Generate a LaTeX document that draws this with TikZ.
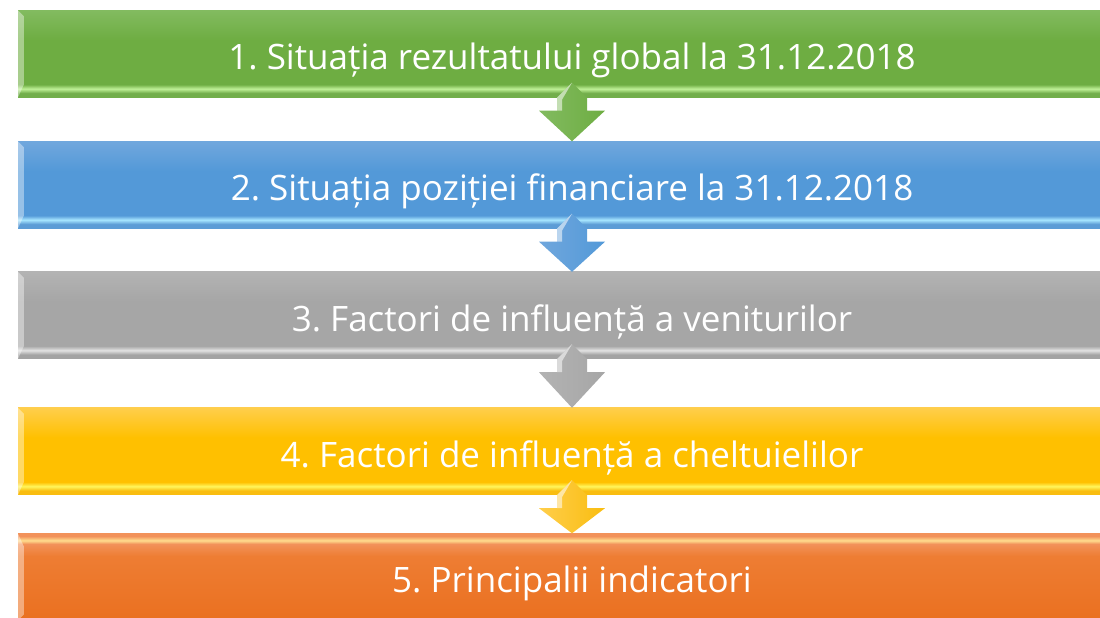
\documentclass[tikz,border=0pt]{standalone}
\usepackage{fontspec}
\setmainfont{Open Sans}
\frenchspacing
\usetikzlibrary{calc}
\definecolor{gTop}{HTML}{82BB60}
\definecolor{gMid}{HTML}{6EAD42}
\definecolor{gLight}{HTML}{BFF097}
\definecolor{gDark}{HTML}{72AE4B}
\definecolor{bTop}{HTML}{70A7DD}
\definecolor{bMid}{HTML}{5399D8}
\definecolor{bLight}{HTML}{A8E6FF}
\definecolor{bDark}{HTML}{5C9CD6}
\definecolor{aTop}{HTML}{B3B3B3}
\definecolor{aMid}{HTML}{A6A6A6}
\definecolor{aLight}{HTML}{E2E2E2}
\definecolor{aDark}{HTML}{A3A3A3}
\definecolor{yTop}{HTML}{FFCE4B}
\definecolor{yMid}{HTML}{FFC000}
\definecolor{yLight}{HTML}{FFF65C}
\definecolor{yDark}{HTML}{F9BD10}
\definecolor{oTop}{HTML}{F2925A}
\definecolor{oMid}{HTML}{EE7D33}
\definecolor{oLight}{HTML}{FFDD8E}
\definecolor{oDark}{HTML}{EA7020}
\newcommand{\barshading}[5]{\pgfdeclareverticalshading{#1}{100bp}{color(0bp)=(#5); color(25bp)=(#5); color(27.5bp)=(#5); color(30bp)=(#4); color(32.5bp)=(#3); color(58bp)=(#3); color(75bp)=(#2); color(100bp)=(#2)}}
\barshading{greenbar}{gTop}{gMid}{gLight}{gDark}
\barshading{bluebar}{bTop}{bMid}{bLight}{bDark}
\barshading{graybar}{aTop}{aMid}{aLight}{aDark}
\barshading{yellowbar}{yTop}{yMid}{yLight}{yDark}
\pgfdeclareverticalshading{orangebar}{100bp}{color(0bp)=(oDark); color(25bp)=(oDark); color(62bp)=(oMid); color(69bp)=(oTop); color(71bp)=(oLight); color(73.5bp)=(oTop); color(75bp)=(oTop); color(100bp)=(oTop)}
\newcommand{\flowarrow}[4]{%
  \shade[left color=#3, right color=#4] ($(#1.south)+(0,15)$) -- ++(15,-15) -- ++(0,-13) -- ++(18,0) -- (#2.north) -- ($(#1.south)+(-33,-13)$) -- ++(18,0) -- ++(0,13) -- cycle;
  \fill[white, opacity=0.55] ($(#1.south)+(0,15)$) -- ($(#1.south)+(-15,0)$) -- ++(0,-13) -- ++(5,0) -- ++(0,11) -- cycle;
}
\tikzset{
  bar/.style={minimum width=1108pt, minimum height=87pt, inner sep=0pt, text height=32pt, text depth=0pt, text=white, font=\fontsize{35}{42}\selectfont},
  bevel/.style={fill=white, fill opacity=0.4}
}

\begin{document}
\begin{tikzpicture}[x=1pt, y=1pt]
      \useasboundingbox (0,0) rectangle (1100,618);
      \clip (0,0) rectangle (1100,618);

      \node[bar, shading=greenbar] (B1) at (572,564) {1. Situația rezultatului global la 31.12.2018};
      \node[bar, shading=bluebar] (B2) at (572,433) {2. Situația poziției financiare la 31.12.2018};
      \node[bar, shading=graybar] (B3) at (572,302.5) {3. Factori de influență a veniturilor};
      \node[bar, shading=yellowbar] (B4) at (572,166.5) {4. Factori de influență a cheltuielilor};
      \node[bar, shading=orangebar] (B5) at (572,41) {5. Principalii indicatori};

      \foreach \b in {B1,B2,B3,B4}
        \fill[bevel] (\b.north west) -- ++(6,-6) -- ($(\b.south west)+(6,13)$) -- (\b.south west) -- cycle;
      \fill[bevel] (B5.north west) -- ++(6,-13) -- ($(B5.south west)+(6,6)$) -- (B5.south west) -- cycle;

      \flowarrow{B1}{B2}{gTop}{gMid}
      \flowarrow{B2}{B3}{bTop}{bMid}
      \flowarrow{B3}{B4}{aTop}{aMid}
      \flowarrow{B4}{B5}{yTop}{yDark}
    \end{tikzpicture}
\end{document}
